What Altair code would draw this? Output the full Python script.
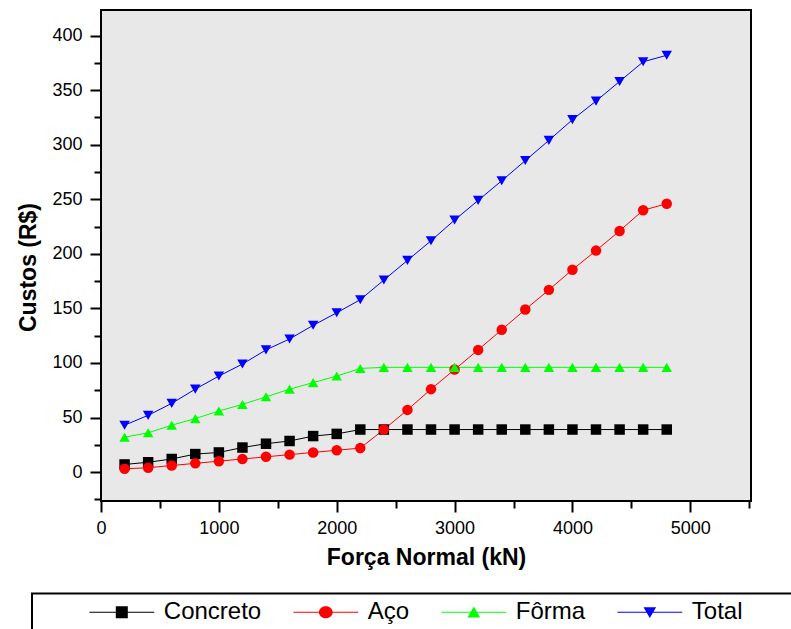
import altair as alt
import pandas as pd

# Normal force (kN) at each design point
forca = [200, 400, 600, 800, 1000, 1200, 1400, 1600, 1800, 2000, 2200, 2400,
         2600, 2800, 3000, 3200, 3400, 3600, 3800, 4000, 4200, 4400, 4600, 4800]

# Cost components (R$)
concreto = [7, 9, 12, 16.5, 18, 22.5, 26, 28.5, 33, 35, 39, 39,
            39, 39, 39, 39, 39, 39, 39, 39, 39, 39, 39, 39]
aco = [3, 4, 6, 8, 10, 12, 14, 16, 18, 20, 22, 39,
       57, 76, 94, 112, 130.5, 149, 167, 185.5, 203, 221, 240, 246]
forma = [32, 36, 43, 49, 56, 62, 69, 76, 82, 88, 95, 96,
         96, 96, 96, 96, 96, 96, 96, 96, 96, 96, 96, 96]
total = [43, 52, 63, 76, 88, 99, 112, 122, 134.5, 146, 158, 176,
         194, 212, 231, 249, 267, 285.5, 304, 323, 340, 358, 376, 382]

series = ["Concreto", "Aço", "Fôrma", "Total"]
colors = ["#000000", "#FF0000", "#00FF00", "#0000FF"]
shapes = ["square", "circle", "triangle-up", "triangle-down"]

x_ticks = [0, 500, 1000, 1500, 2000, 2500, 3000, 3500, 4000, 4500, 5000, 5500]
y_ticks = [-25, 0, 25, 50, 75, 100, 125, 150, 175, 200, 225, 250, 275, 300,
           325, 350, 375, 400]

rows = []
for name, shp, vals in zip(series, shapes, [concreto, aco, forma, total]):
    for xv, yv in zip(forca, vals):
        rows.append({"Força": xv, "Custo": yv, "Série": name, "Marcador": shp})
df = pd.DataFrame(rows)

FONT = "Liberation Sans"

# Legend glyphs: a short line with the series marker on top (unit = 6 px)
bar = "M-5.4,-0.09H5.4V0.09H-5.4Z"
glyphs = {
    "Concreto": bar + "M-1,-1H1V1H-1Z",
    "Aço": bar + "M1.15,0A1.15,1,0,1,1,-1.15,0A1.15,1,0,1,1,1.15,0Z",
    "Fôrma": bar + "M0,-0.95L1.05,0.85L-1.05,0.85Z",
    "Total": bar + "M0,0.95L-1.05,-0.85L1.05,-0.85Z",
}
glyph_expr = (
    f"datum.value === 'Concreto' ? '{glyphs['Concreto']}' : "
    f"datum.value === 'Aço' ? '{glyphs['Aço']}' : "
    f"datum.value === 'Fôrma' ? '{glyphs['Fôrma']}' : '{glyphs['Total']}'"
)

x_axis = alt.Axis(
    values=x_ticks,
    labelExpr="datum.value % 1000 === 0 ? datum.label : ''",
    format="d",
    tickSize={"condition": {"test": "datum.value % 1000 === 0", "value": 11}, "value": 7},
    tickWidth=2, tickColor="black", domain=False, grid=False,
    labelFont=FONT, labelFontSize=18, labelColor="black", labelPadding=7,
    labelFlush=False, labelOverlap=False,
    title="Força Normal (kN)", titleFont=FONT, titleFontSize=23,
    titleFontWeight="bold", titleColor="black",
    titleX=325, titleY=56, titleBaseline="middle",
)
y_axis = alt.Axis(
    values=y_ticks,
    labelExpr="datum.value % 50 === 0 ? datum.label : ''",
    format="d",
    tickSize={"condition": {"test": "datum.value % 50 === 0", "value": 11}, "value": 7},
    tickWidth=2, tickColor="black", domain=False, grid=False,
    labelFont=FONT, labelFontSize=18, labelColor="black", labelPadding=8,
    labelOverlap=False,
    title="Custos (R$)", titleFont=FONT, titleFontSize=23,
    titleFontWeight="bold", titleColor="black",
    titleX=-73, titleY=257, titleBaseline="middle",
)

x_enc = alt.X("Força:Q", scale=alt.Scale(domain=[0, 5515], nice=False, zero=False), axis=x_axis)
y_enc = alt.Y("Custo:Q", scale=alt.Scale(domain=[-26.5, 423.5], nice=False, zero=False), axis=y_axis)
color_scale = alt.Scale(domain=series, range=colors)

legend = alt.Legend(
    title=None, orient="none", legendX=-11.7, legendY=590.3,
    direction="horizontal", columns=4,
    symbolType={"expr": glyph_expr}, symbolSize=144, symbolStrokeWidth=0,
    symbolOffset=20.5, labelOffset=30, columnPadding=32, padding=0,
    labelFont=FONT, labelFontSize=24, labelColor="black", labelLimit=300,
)

lines = alt.Chart(df).mark_line(strokeWidth=1).encode(
    x=x_enc, y=y_enc,
    color=alt.Color("Série:N", scale=color_scale, legend=legend),
)

points = alt.Chart(df).mark_point(filled=True, size=110, opacity=1).encode(
    x=x_enc, y=y_enc,
    color=alt.Color("Série:N", scale=color_scale, legend=legend),
    shape=alt.Shape("Marcador:N", scale=None),
)

# Box around the legend row
legend_box = alt.Chart(pd.DataFrame({"k": [0]})).mark_rect(
    fillOpacity=0, stroke="black", strokeWidth=2
).encode(
    x=alt.value(-69), x2=alt.value(720), y=alt.value(583.5), y2=alt.value(660)
)

chart = alt.layer(lines, points, legend_box).properties(
    width=650, height=491,
    autosize=alt.AutoSizeParams(type="none"),
    padding={"left": 101, "top": 10, "right": 40, "bottom": 128},
    background="white",
).configure_view(
    stroke="black", strokeWidth=2, fill="#E8E8E8"
)

chart.save("out.html", embed_options={"renderer": "svg", "actions": False})
